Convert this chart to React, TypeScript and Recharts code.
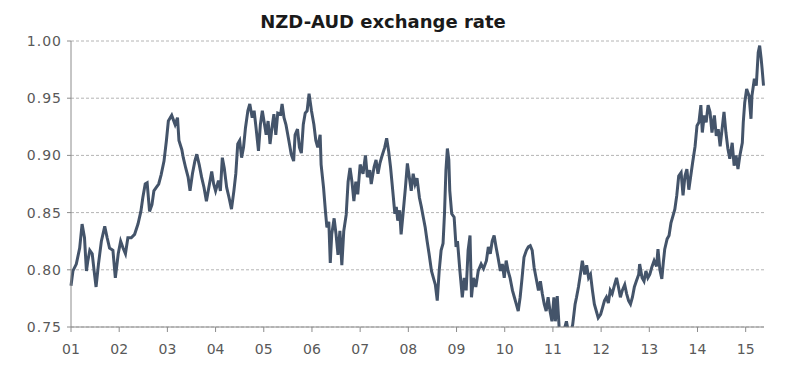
import { LineChart, Line, XAxis, YAxis, CartesianGrid } from 'recharts'

// years since Jan 2001
const t = [
  0.0, 0.04, 0.11, 0.18, 0.23, 0.28, 0.32, 0.35, 0.39, 0.44, 0.48, 0.52, 0.57, 0.63, 0.7, 0.75, 0.8, 0.87, 0.92, 0.98,
  1.03, 1.08, 1.13, 1.18, 1.25, 1.32, 1.39, 1.45, 1.49, 1.54, 1.58, 1.63, 1.68, 1.72, 1.77, 1.82, 1.87, 1.93, 1.98,
  2.02, 2.09, 2.16, 2.21, 2.24, 2.3, 2.33, 2.38, 2.43, 2.47, 2.52, 2.57, 2.61, 2.66, 2.71, 2.76, 2.81, 2.86, 2.92, 2.96,
  3.0, 3.06, 3.1, 3.14, 3.18, 3.23, 3.28, 3.33, 3.38, 3.42, 3.46, 3.5, 3.54, 3.58, 3.62, 3.67, 3.71, 3.76, 3.8, 3.84,
  3.89, 3.93, 3.97,
  4.05, 4.09, 4.13, 4.17, 4.21, 4.25, 4.29, 4.35, 4.38, 4.42, 4.46, 4.52, 4.57, 4.62, 4.65, 4.7, 4.74, 4.78, 4.82,
  4.86, 4.9, 4.94, 4.99, 5.04, 5.08, 5.12, 5.17, 5.19, 5.24, 5.28, 5.31, 5.35, 5.38, 5.41, 5.46, 5.5, 5.54, 5.58,
  5.62, 5.66, 5.71, 5.75, 5.79, 5.83, 5.87, 5.91, 5.95, 6.0,
  6.06, 6.11, 6.15, 6.2, 6.23, 6.29, 6.33, 6.37, 6.41, 6.45, 6.51, 6.55, 6.59, 6.63, 6.67, 6.72, 6.75, 6.78, 6.82,
  6.85, 6.89, 6.94, 6.98, 7.02, 7.06, 7.1, 7.14, 7.18, 7.23, 7.27, 7.31, 7.35, 7.39, 7.43, 7.48, 7.52, 7.56, 7.6,
  7.64, 7.68, 7.72, 7.75, 7.78, 7.81, 7.84, 7.86, 7.9, 7.95, 7.99,
  8.02, 8.07, 8.12, 8.16, 8.2, 8.24, 8.28, 8.31, 8.35, 8.4, 8.45, 8.51, 8.56, 8.62, 8.66, 8.7, 8.74, 8.78, 8.82,
  8.86, 8.91, 8.95, 8.99, 9.03, 9.07, 9.11, 9.16, 9.2, 9.24, 9.28, 9.32, 9.36, 9.4, 9.45, 9.49, 9.53, 9.57, 9.61,
  9.65, 9.7, 9.74, 9.78, 9.82, 9.86, 9.9, 9.94, 9.98,
  10.02, 10.05, 10.09, 10.13, 10.18, 10.23, 10.28, 10.32, 10.37, 10.41, 10.46, 10.49, 10.53, 10.57, 10.61, 10.66,
  10.7, 10.74, 10.78, 10.82, 10.86, 10.9, 10.94, 10.99, 11.03, 11.07, 11.11, 11.15, 11.19, 11.23, 11.28, 11.32,
  11.36, 11.4, 11.44, 11.49, 11.53, 11.57, 11.61, 11.65, 11.69, 11.73, 11.78, 11.8, 11.85, 11.89, 11.93, 11.97,
  12.01, 12.05, 12.1,
  12.15, 12.18, 12.22, 12.26, 12.29, 12.32, 12.37, 12.41, 12.45, 12.49, 12.53, 12.57, 12.61, 12.66, 12.7, 12.74,
  12.78, 12.82, 12.86, 12.9, 12.95, 12.99, 13.03, 13.07, 13.1, 13.14, 13.18, 13.22, 13.26, 13.3, 13.35, 13.39,
  13.43, 13.47, 13.51, 13.55, 13.59, 13.63, 13.67, 13.72, 13.76, 13.8, 13.84, 13.88, 13.93, 13.95, 13.98, 14.02,
  14.07, 14.11, 14.13, 14.18, 14.22, 14.26, 14.29, 14.32, 14.34, 14.37,
]

const rate = [
  0.786, 0.799, 0.805, 0.819, 0.84, 0.828, 0.799, 0.808, 0.817, 0.814, 0.799, 0.785, 0.805, 0.825, 0.838, 0.828, 0.819, 0.817, 0.793, 0.814,
  0.825, 0.819, 0.814, 0.828, 0.828, 0.831, 0.84, 0.851, 0.863, 0.875, 0.876, 0.851, 0.857, 0.869, 0.872, 0.875, 0.883, 0.895, 0.913,
  0.93, 0.935, 0.927, 0.933, 0.913, 0.905, 0.898, 0.889, 0.881, 0.869, 0.884, 0.895, 0.901, 0.892, 0.881, 0.872, 0.86, 0.872, 0.886, 0.875,
  0.869, 0.878, 0.869, 0.898, 0.889, 0.872, 0.863, 0.853, 0.869, 0.884, 0.91, 0.913, 0.898, 0.907, 0.924, 0.939, 0.945, 0.933, 0.939, 0.924,
  0.904, 0.927, 0.939,
  0.918, 0.93, 0.91, 0.924, 0.936, 0.918, 0.937, 0.936, 0.945, 0.933, 0.927, 0.913, 0.901, 0.895, 0.918, 0.923, 0.907, 0.902, 0.927,
  0.937, 0.939, 0.954, 0.939, 0.927, 0.913, 0.907, 0.918, 0.892, 0.872, 0.851, 0.837, 0.842, 0.806, 0.831, 0.845, 0.831, 0.813, 0.834,
  0.804, 0.834, 0.848, 0.877, 0.889, 0.877, 0.86, 0.877, 0.866, 0.892,
  0.884, 0.9, 0.881, 0.887, 0.875, 0.89, 0.896, 0.884, 0.893, 0.899, 0.907, 0.915, 0.904, 0.89, 0.872, 0.849, 0.855, 0.843, 0.852,
  0.831, 0.849, 0.872, 0.893, 0.881, 0.869, 0.884, 0.875, 0.88, 0.863, 0.855, 0.846, 0.837, 0.825, 0.814, 0.799, 0.793, 0.787, 0.773,
  0.799, 0.817, 0.823, 0.849, 0.887, 0.906, 0.896, 0.869, 0.849, 0.846, 0.82,
  0.825, 0.799, 0.776, 0.793, 0.782, 0.817, 0.83, 0.776, 0.793, 0.785, 0.799, 0.805, 0.801, 0.808, 0.82, 0.814, 0.825, 0.83, 0.82,
  0.811, 0.799, 0.805, 0.793, 0.808, 0.799, 0.793, 0.782, 0.776, 0.77, 0.764, 0.776, 0.793, 0.811, 0.817, 0.82, 0.821, 0.817, 0.802,
  0.793, 0.782, 0.79, 0.779, 0.77, 0.764, 0.776, 0.764, 0.755,
  0.776, 0.755, 0.777, 0.749, 0.745, 0.747, 0.755, 0.746, 0.745, 0.752, 0.77, 0.776, 0.785, 0.796, 0.808, 0.796,
  0.804, 0.793, 0.796, 0.782, 0.77, 0.764, 0.758, 0.761, 0.767, 0.773, 0.776, 0.771, 0.782, 0.779, 0.787, 0.793,
  0.785, 0.776, 0.782, 0.787, 0.779, 0.773, 0.77, 0.776, 0.785, 0.79, 0.796, 0.805, 0.793, 0.79, 0.799, 0.793,
  0.796, 0.802, 0.808,
  0.803, 0.818, 0.8, 0.792, 0.806, 0.818, 0.827, 0.83, 0.841, 0.847, 0.853, 0.865, 0.882, 0.885, 0.865, 0.882,
  0.888, 0.87, 0.882, 0.894, 0.908, 0.926, 0.929, 0.944, 0.92, 0.935, 0.929, 0.944, 0.938, 0.92, 0.935, 0.917,
  0.923, 0.908, 0.923, 0.938, 0.92, 0.906, 0.897, 0.911, 0.891, 0.9, 0.888, 0.9, 0.911, 0.929, 0.946, 0.958,
  0.952, 0.932, 0.952, 0.967, 0.961, 0.99, 0.996, 0.985, 0.976, 0.961,
]

const yearTicks = [0, 1, 2, 3, 4, 5, 6, 7, 8, 9, 10, 11, 12, 13, 14]
const yearLabels = ['01', '02', '03', '04', '05', '06', '07', '08', '09', '10', '11', '12', '13', '14', '15']
const rateTicks = [0.75, 0.8, 0.85, 0.9, 0.95, 1.0]

const data = t.map((x, i) => ({ t: x, rate: rate[i] }))

const tickStyle = { fontSize: 14, fill: '#595959', fontFamily: 'DejaVu Sans' }

export default function App() {
  return (
    <div style={{ position: 'relative', width: 800, height: 383, background: '#fff' }}>
      <style>{'body{margin:0}'}</style>
      <div
        style={{
          position: 'absolute',
          top: 13,
          left: 0,
          width: 766,
          textAlign: 'center',
          fontFamily: 'DejaVu Sans',
          fontWeight: 'bold',
          fontSize: 18,
          lineHeight: '18px',
          color: '#1a1a1a',
        }}
      >
        NZD-AUD exchange rate
      </div>
      <LineChart width={800} height={383} data={data} margin={{ top: 41, right: 36, bottom: 0, left: 0 }}>
        <CartesianGrid vertical={false} stroke="#b4b4b4" strokeDasharray="3 2" />
        <XAxis
          dataKey="t"
          type="number"
          domain={[0, 14.38]}
          ticks={yearTicks}
          tickFormatter={(v: number) => yearLabels[v]}
          tick={tickStyle}
          tickSize={5}
          tickMargin={12}
          height={56}
          stroke="#8c8c8c"
          interval={0}
        />
        <YAxis
          type="number"
          domain={[0.75, 1]}
          allowDataOverflow
          ticks={rateTicks}
          tickFormatter={(v: number) => v.toFixed(2)}
          tick={{ ...tickStyle, letterSpacing: 1 }}
          tickSize={4}
          tickMargin={5}
          width={71}
          stroke="#8c8c8c"
        />
        <Line
          type="linear"
          dataKey="rate"
          stroke="#44546a"
          strokeWidth={3}
          dot={false}
          isAnimationActive={false}
        />
      </LineChart>
    </div>
  )
}
